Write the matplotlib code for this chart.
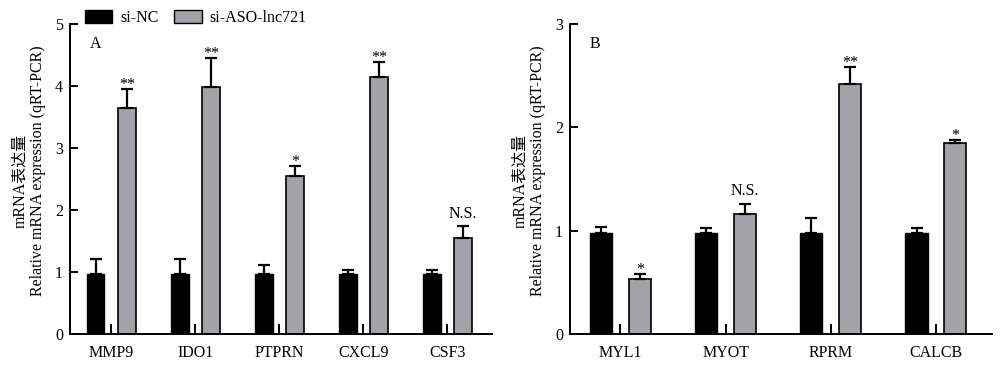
import numpy as np
import matplotlib
matplotlib.use('Agg')
import matplotlib.pyplot as plt
from matplotlib.patches import Patch

plt.rcParams['font.family'] = ['Liberation Serif', 'Noto Sans CJK SC']
plt.rcParams['font.size'] = 11

# panel A
genes_a = ['MMP9', 'IDO1', 'PTPRN', 'CXCL9', 'CSF3']
nc_a = [0.97, 0.97, 0.97, 0.97, 0.97]
nc_err_a = [0.23, 0.24, 0.14, 0.06, 0.06]
aso_a = [3.64, 3.99, 2.54, 4.14, 1.54]
aso_err_a = [0.31, 0.46, 0.17, 0.24, 0.20]
sig_a = ['**', '**', '*', '**', 'N.S.']

# panel B
genes_b = ['MYL1', 'MYOT', 'RPRM', 'CALCB']
nc_b = [0.98, 0.98, 0.98, 0.98]
nc_err_b = [0.05, 0.04, 0.14, 0.04]
aso_b = [0.53, 1.16, 2.42, 1.85]
aso_err_b = [0.05, 0.10, 0.16, 0.03]
sig_b = ['*', 'N.S.', '**', '*']

GRAY = '#a2a2a7'


def draw_panel(ax, genes, nc, nc_err, aso, aso_err, sig, ymax, letter, xlim):
  x = np.arange(len(genes))
  w = 0.21
  ax.bar(x - 0.185, nc, w, color='black', edgecolor='black', lw=1)
  ax.bar(x + 0.185, aso, w, color=GRAY, edgecolor='black', lw=1.2)
  ekw = dict(fmt='none', ecolor='black', elinewidth=1.6, capsize=4.5, capthick=1.6)
  ax.errorbar(x - 0.185, nc, yerr=[np.zeros(len(nc)), nc_err], **ekw)
  ax.errorbar(x + 0.185, aso, yerr=[np.zeros(len(aso)), aso_err], **ekw)
  for xi, v, e, s in zip(x, aso, aso_err, sig):
    off = 6 if s == 'N.S.' else 0
    ax.annotate(s, (xi + 0.185, v + e), xytext=(0, off), textcoords='offset points',
                ha='center', va='baseline', fontsize=11.5)
  ax.set_xlim(*xlim)
  ax.set_ylim(0, ymax)
  ax.set_yticks(range(ymax + 1))
  ax.set_xticks(x)
  ax.set_xticklabels(genes)
  ax.spines['top'].set_visible(False)
  ax.spines['right'].set_visible(False)
  for sp in ['left', 'bottom']:
    ax.spines[sp].set_linewidth(1.4)
  ax.tick_params(axis='y', direction='in', length=6, width=1.4, pad=5, labelsize=11.5)
  ax.tick_params(axis='x', direction='in', length=7, width=1.4, pad=8, labelsize=11.5)
  ax.text(0.06, 0.935, letter, transform=ax.transAxes, ha='center', va='center', fontsize=11.5)


fig = plt.figure(figsize=(10, 3.7), dpi=100)
ax1 = fig.add_axes([0.070, 0.098, 0.422, 0.837])
ax2 = fig.add_axes([0.570, 0.098, 0.4217, 0.837])

draw_panel(ax1, genes_a, nc_a, nc_err_a, aso_a, aso_err_a, sig_a, 5, 'A', (-0.49, 4.53))
draw_panel(ax2, genes_b, nc_b, nc_err_b, aso_b, aso_err_b, sig_b, 3, 'B', (-0.48, 3.53))

for xl in [0.020, 0.520]:
  fig.text(xl, 0.51, 'mRNA表达量', rotation=90, ha='center', va='center', fontsize=11.5)
  fig.text(xl + 0.018, 0.54, 'Relative mRNA expression (qRT-PCR)', rotation=90,
           ha='center', va='center', fontsize=11.5)

handles = [Patch(facecolor='black', edgecolor='black', label='si-NC'),
           Patch(facecolor=GRAY, edgecolor='black', label='si-ASO-lnc721')]
fig.legend(handles=handles, loc='center left', bbox_to_anchor=(0.085, 0.951), ncol=2,
           frameon=False, borderpad=0, borderaxespad=0, handlelength=1.7,
           handleheight=0.8, handletextpad=0.5, columnspacing=1.0, fontsize=11.5)

fig.savefig('out.png', dpi=100)
